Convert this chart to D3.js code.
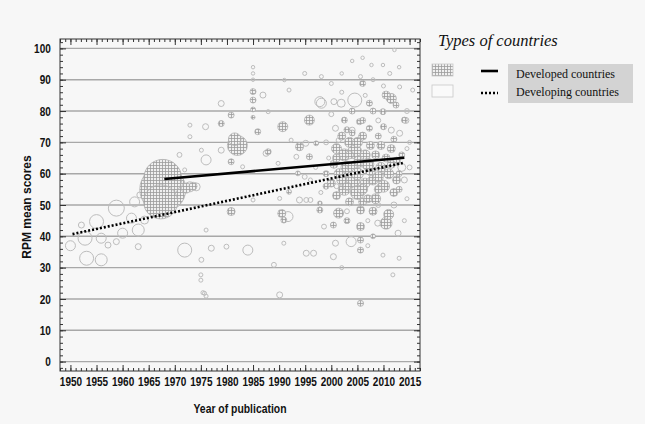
<!DOCTYPE html>
<html>
<head>
<meta charset="utf-8">
<script src="https://cdn.jsdelivr.net/npm/d3@7"></script>
<style>
  body { margin: 0; background: #f7f7f7; }
  svg { display: block; }
</style>
</head>
<body>
<div id="chart"></div>
<script>
// developed countries (hatched bubbles): year, mean score, sample size
const devYear  = [1967.7, 1967.7, 1967.3, 1972.2, 1973.5,
  1985, 1985, 1985, 1985, 1980.8, 1978.9, 1985.9, 1982, 1981.5, 1980.8, 1980.8, 1987.9,
  1990.7, 1995.8, 1993.9, 1995.8, 1997.1, 1993.6, 1991.9, 1990.5, 1990.9, 1997.8, 1997.8,
  2006, 2011.5, 2012.4, 2007.3, 2009.9, 2014, 2002.5, 2005.4, 2007.3, 2010.5,
  2001, 2002.5, 2003.5, 2004.5, 2005.5, 2003, 2001.5, 2004, 2002.5, 2005, 2006.5, 2007.5,
  2008.5, 2007.5, 2009.5, 2010, 2011, 2012.5, 2008.5, 2006, 2000.5, 2000, 2003.5, 2011.5,
  2012, 2009, 2006, 2004, 2013, 2013.5,
  2001.4, 2000.4, 2005.6, 2005.6, 2010.5, 2005.6, 2005.6, 2005.6, 2011, 2003, 2008,
  2002, 2003, 2005, 2006.5, 2007, 2008, 2009, 2010.5, 2011.5, 2012.5, 2001, 2002, 2004,
  2005, 2006, 2007, 2008, 2009.5, 2010, 2012, 2013, 2001, 2003.5, 2006, 2008, 2004,
  2003, 2009, 1999, 1999];
const devScore = [55, 58.5, 51, 55.4, 56,
  86.2, 83.5, 80.5, 78, 78.7, 76, 73.4, 69, 71, 63.8, 47.9, 67,
  75, 77.1, 68.6, 65.4, 69.7, 60.1, 54.2, 47.3, 45.2, 48.4, 50.5,
  88.8, 84, 81.9, 82.5, 79.8, 77.1, 77.1, 76.6, 74.5, 85.1,
  68, 66, 70, 67, 64, 62, 60, 58, 55, 54, 57, 61,
  66, 69, 62, 56, 60, 64, 52, 51, 63, 57, 51, 68,
  54, 72, 72, 73, 60, 66,
  47.4, 43.6, 48.4, 43.1, 44.2, 38.8, 35.6, 18.6, 47, 45, 40,
  72, 74, 70, 66, 63, 58, 55, 65, 63, 58, 53, 58, 62,
  60, 55, 52, 48, 69, 75, 71, 55, 65, 66, 77, 80, 80,
  56, 59, 60, 56];
const devN     = [5300, 3600, 2900, 250, 160,
  90, 90, 60, 40, 90, 90, 90, 1000, 400, 90, 160, 90,
  250, 250, 160, 90, 60, 60, 60, 160, 90, 90, 60,
  90, 250, 90, 90, 90, 90, 90, 90, 90, 160,
  250, 360, 250, 490, 360, 360, 250, 640, 360, 490, 250, 250,
  160, 160, 250, 360, 250, 160, 250, 160, 160, 160, 160, 160,
  160, 90, 160, 90, 90, 90,
  250, 90, 160, 160, 360, 90, 90, 90, 250, 90, 60,
  160, 90, 250, 250, 360, 250, 160, 160, 160, 160, 160, 250, 250,
  360, 250, 160, 160, 160, 90, 90, 90, 160, 160, 90, 90, 90,
  160, 250, 90, 90];

// developing countries (open bubbles)
const dgYear  = [1950, 1952.1, 1952.8, 1955, 1953.1, 1955.9, 1955.9, 1958.8, 1957.2, 1958.8,
  1962.3, 1963, 1963, 1964.2, 1960, 1961.7, 1963.3,
  1971.9, 1974.1, 1975.1, 1972.9, 1970.9, 1971.9, 1975.1, 1975, 1975, 1975.4, 1976,
  1986.9, 1978.9, 1972.9, 1975.9, 1976, 1978.9, 1972.9, 1985, 1985, 1985,
  1987.9, 1991.9, 1991, 1994.9, 1998.1, 1997.8, 1995.1, 1993.3, 1987.5, 1983, 1989.8, 1992.3,
  1991.7, 1993.9, 1995.2, 1996, 1994.9, 1990.1, 1985, 1984, 1979.9, 1977, 1976, 1990.9,
  1995.2, 1996.6, 1989, 1990.1, 1975.7, 1998.6,
  2004.5, 1998.1, 2001.9, 2000.5, 2012.1, 2009.9, 2007.7, 2011.2, 2005.6, 2000, 2013.1, 2015.6,
  2000.8, 2004, 2011.5, 2013.1, 2001.4, 2012.8, 2003.8, 2000.8, 2000.4, 2009.9, 2011.8, 2008.9,
  2013.5, 2014, 2012, 2014.3,
  2002, 2004, 2006, 2008, 2010, 2013, 2014.5, 2015, 2014.5, 2015, 2000, 2002, 2006.5, 2009,
  1999, 1999.5, 2001, 2003, 2007, 2009, 2014, 2014.5, 2013, 2002, 2007, 1997, 1996, 1998];
const dgScore = [37, 43.6, 39.4, 44.7, 33, 32.5, 39.4, 49, 37.2, 38.3,
  51, 42, 36.7, 45.2, 41, 45.8, 53.2,
  35.6, 55.8, 67.5, 71.8, 66, 61.2, 32.5, 27.7, 26, 22, 20.9,
  85.1, 82.4, 75.5, 75, 64.4, 67.5, 55.8, 92, 94, 90,
  79.8, 86.7, 89.9, 92, 91, 83, 69.7, 65.4, 66.5, 62.2, 63.3, 70.7,
  46.3, 51.6, 51.6, 51.6, 59, 52.1, 51.6, 35.6, 36.7, 36.2, 42, 37.8,
  34.6, 34.6, 30.9, 21.3, 21.8, 43.1,
  83.5, 82.5, 82.5, 83, 99.5, 94.7, 94.7, 92, 91, 88.8, 87.7, 86.7,
  74.5, 73.9, 73.9, 72.9, 70.7, 41, 38.3, 37.8, 33.5, 34, 27.7, 44.2,
  62, 58, 50, 77,
  92, 96, 97, 90, 88, 94, 80, 70, 68, 62, 79, 86, 85, 77,
  70, 65, 56, 48, 45, 50, 45, 52, 33, 30, 37, 62, 58, 54];
const dgN     = [250, 90, 490, 490, 490, 360, 250, 640, 90, 90,
  250, 360, 90, 160, 250, 250, 90,
  490, 160, 40, 40, 60, 40, 60, 40, 40, 40, 40,
  90, 90, 40, 90, 250, 90, 250, 30, 30, 30,
  40, 40, 30, 40, 40, 250, 90, 60, 90, 40, 40, 40,
  250, 90, 60, 60, 60, 40, 40, 250, 60, 90, 40, 40,
  90, 90, 60, 90, 40, 60,
  490, 250, 160, 90, 30, 30, 30, 40, 40, 40, 40, 40,
  90, 90, 90, 90, 60, 90, 250, 90, 90, 40, 40, 90,
  160, 90, 90, 90,
  30, 30, 30, 40, 40, 30, 60, 40, 40, 60, 60, 40, 40, 60,
  60, 40, 60, 60, 40, 60, 40, 40, 40, 40, 40, 40, 40, 40];

// regression lines [start, end]
const devLineYear  = [1968, 2014];
const devLineScore = [58.3, 65.1];
const dgLineYear   = [1950.4, 2013.7];
const dgLineScore  = [40.7, 63.4];

const xMajor = d3.range(1950, 2016, 5);
const yMajor = d3.range(0, 101, 10);

const W = 645, H = 424;
const mLeft = 60, mRight = 420, mTop = 39, mBottom = 371;

const svg = d3.select("#chart").append("svg")
  .attr("width", W).attr("height", H)
  .style("background", "#f7f7f7");

const x = d3.scaleLinear().domain([1948, 2017]).range([mLeft, mRight]);
const y = d3.scaleLinear().domain([-3, 103]).range([mBottom, mTop]);
const r = d3.scaleSqrt().domain([0, 10000]).range([0, 31.6]);

// grid pattern for developed bubbles
const defs = svg.append("defs");
const pat = defs.append("pattern")
  .attr("id", "hatch").attr("patternUnits", "userSpaceOnUse")
  .attr("width", 3).attr("height", 3);
pat.append("rect").attr("width", 3).attr("height", 3).attr("fill", "#f0f0f0");
pat.append("path").attr("d", "M0,0.5H3M0.5,0V3")
  .attr("stroke", "#9c9c9c").attr("stroke-width", 0.8);

// horizontal grid lines
svg.append("g").selectAll("line")
  .data(yMajor).join("line")
  .attr("x1", mLeft).attr("x2", mRight)
  .attr("y1", d => y(d)).attr("y2", d => y(d))
  .attr("stroke", "#a8a8a8").attr("stroke-width", 1.4);

// bubbles
const plot = svg.append("g");
const dev = devYear.map((d, i) => ({ year: d, score: devScore[i], n: devN[i] }));
const dg = dgYear.map((d, i) => ({ year: d, score: dgScore[i], n: dgN[i] }));

plot.append("g").selectAll("circle")
  .data(dg).join("circle")
  .attr("cx", d => x(d.year)).attr("cy", d => y(d.score))
  .attr("r", d => r(d.n))
  .attr("fill", "none").attr("stroke", "#bdbdbd").attr("stroke-width", 1);

plot.append("g").selectAll("circle")
  .data(dev).join("circle")
  .attr("cx", d => x(d.year)).attr("cy", d => y(d.score))
  .attr("r", d => r(d.n))
  .attr("fill", "url(#hatch)").attr("stroke", "#b0b0b0").attr("stroke-width", 0.8);

// regression lines
const line = d3.line().x(d => x(d[0])).y(d => y(d[1]));
svg.append("path")
  .attr("d", line(devLineYear.map((d, i) => [d, devLineScore[i]])))
  .attr("stroke", "#000").attr("stroke-width", 2.6).attr("fill", "none");
svg.append("path")
  .attr("d", line(dgLineYear.map((d, i) => [d, dgLineScore[i]])))
  .attr("stroke", "#000").attr("stroke-width", 2.6)
  .attr("stroke-dasharray", "2,2").attr("fill", "none");

// axes with inside ticks; labels squeezed horizontally like the original's narrow font
const tickFont = "'Liberation Sans', Arial, sans-serif";
const squeeze = 0.77;
function styleAxis(g) {
  g.select(".domain").remove();
  g.selectAll("line").attr("stroke", "#333");
  g.selectAll("text").attr("font-family", tickFont).attr("font-size", 13)
    .attr("font-weight", "bold").attr("fill", "#111")
    .attr("transform", `scale(${squeeze},1)`);
}
const xMinor = d3.range(1948, 2018, 1);
const yMinor = d3.range(-2, 104, 2);

svg.append("g").attr("transform", `translate(0,${mBottom})`)
  .call(d3.axisBottom(x).tickValues(xMinor).tickSize(-3).tickFormat(""))
  .call(styleAxis);
svg.append("g").attr("transform", `translate(0,${mBottom})`)
  .call(d3.axisBottom(x).tickValues(xMajor).tickSize(-6).tickPadding(6).tickFormat(d3.format("d")))
  .call(styleAxis);
svg.append("g").attr("transform", `translate(0,${mTop})`)
  .call(d3.axisTop(x).tickValues(xMinor).tickSize(-3).tickFormat(""))
  .call(styleAxis);
svg.append("g").attr("transform", `translate(0,${mTop})`)
  .call(d3.axisTop(x).tickValues(xMajor).tickSize(-6).tickFormat(""))
  .call(styleAxis);

svg.append("g").attr("transform", `translate(${mLeft},0)`)
  .call(d3.axisLeft(y).tickValues(yMinor).tickSize(-3).tickFormat(""))
  .call(styleAxis);
svg.append("g").attr("transform", `translate(${mLeft},0)`)
  .call(d3.axisLeft(y).tickValues(yMajor).tickSize(-6).tickPadding(12))
  .call(styleAxis);
svg.append("g").attr("transform", `translate(${mRight},0)`)
  .call(d3.axisRight(y).tickValues(yMinor).tickSize(-3).tickFormat(""))
  .call(styleAxis);
svg.append("g").attr("transform", `translate(${mRight},0)`)
  .call(d3.axisRight(y).tickValues(yMajor).tickSize(-6).tickFormat(""))
  .call(styleAxis);

// frame
svg.append("rect")
  .attr("x", mLeft).attr("y", mTop)
  .attr("width", mRight - mLeft).attr("height", mBottom - mTop)
  .attr("fill", "none").attr("stroke", "#333").attr("stroke-width", 1);

// axis titles
svg.append("text")
  .attr("transform", `translate(${(mLeft + mRight) / 2},413) scale(0.8,1)`)
  .attr("text-anchor", "middle")
  .attr("font-family", tickFont).attr("font-size", 13).attr("font-weight", "bold")
  .attr("fill", "#111")
  .text("Year of publication");
svg.append("text")
  .attr("transform", `translate(31,${(mTop + mBottom) / 2 + 2}) rotate(-90)`)
  .attr("text-anchor", "middle")
  .attr("font-family", tickFont).attr("font-size", 12)
  .attr("font-weight", "bold").attr("fill", "#111")
  .text("RPM mean scores");

// legend
const serif = "'Liberation Serif', 'Times New Roman', serif";
svg.append("text")
  .attr("x", 438).attr("y", 46)
  .attr("font-family", serif).attr("font-style", "italic").attr("font-size", 16.5)
  .attr("fill", "#111")
  .text("Types of countries");

svg.append("rect").attr("x", 508).attr("y", 64).attr("width", 125).attr("height", 39)
  .attr("fill", "#d3d3d3");

svg.append("rect").attr("x", 432).attr("y", 64).attr("width", 21).attr("height", 12)
  .attr("fill", "url(#hatch)").attr("stroke", "#c8c8c8").attr("stroke-width", 0.8);
svg.append("rect").attr("x", 432).attr("y", 85).attr("width", 21).attr("height", 12)
  .attr("fill", "#fafafa").attr("stroke", "#c8c8c8").attr("stroke-width", 0.8);

svg.append("line").attr("x1", 481).attr("x2", 498).attr("y1", 71).attr("y2", 71)
  .attr("stroke", "#000").attr("stroke-width", 2.6);
svg.append("line").attr("x1", 481).attr("x2", 498).attr("y1", 93).attr("y2", 93)
  .attr("stroke", "#000").attr("stroke-width", 2.6).attr("stroke-dasharray", "2,2");

svg.append("text").attr("x", 516).attr("y", 78)
  .attr("font-family", serif).attr("font-size", 12).attr("fill", "#111")
  .text("Developed countries");
svg.append("text").attr("x", 516).attr("y", 96)
  .attr("font-family", serif).attr("font-size", 12).attr("fill", "#111")
  .text("Developing countries");
</script>
</body>
</html>
